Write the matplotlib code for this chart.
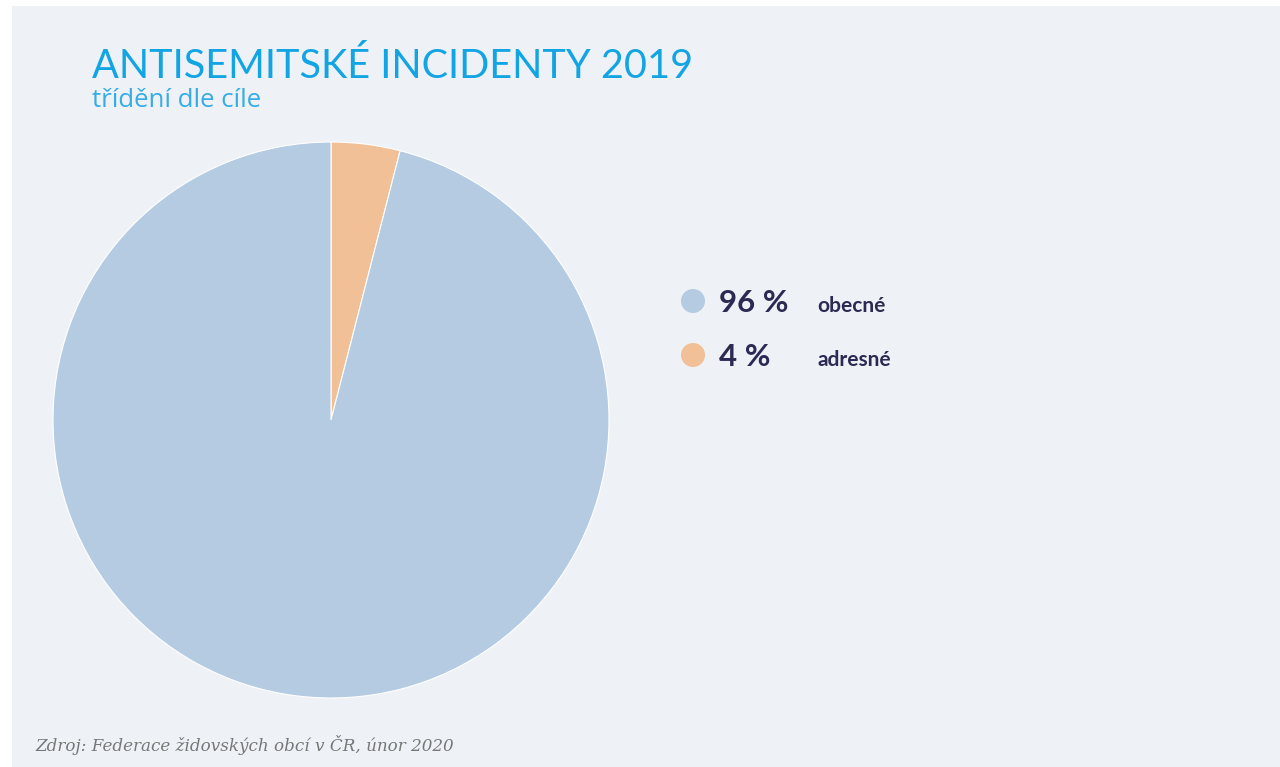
import matplotlib
matplotlib.use("Agg")
import matplotlib.pyplot as plt
from matplotlib.patches import Rectangle, Circle

# Data
labels = ["adresné", "obecné"]
values = [4, 96]
colors = ["#f2c096", "#b5cbe2"]

# Legend shows obecné first
legend_labels = ["obecné", "adresné"]
legend_values = [96, 4]
legend_colors = ["#b5cbe2", "#f2c096"]

W, H = 1280, 767
fig = plt.figure(figsize=(W / 100, H / 100), dpi=100)
fig.patch.set_facecolor("white")

# Background axes in pixel coordinates (y down)
bg = fig.add_axes([0, 0, 1, 1], zorder=0)
bg.set_xlim(0, W)
bg.set_ylim(H, 0)
bg.axis("off")
bg.add_patch(Rectangle((12, 6), W - 12, H - 6, facecolor="#eef2f6", edgecolor="none"))

# Pie axes: centre (331, 420), radius 278 px
cx, cy, r = 331, 420, 278
ax = fig.add_axes([(cx - r) / W, (H - cy - r) / H, 2 * r / W, 2 * r / H], zorder=1)
ax.pie(values, colors=colors, startangle=90, counterclock=False, radius=1,
       wedgeprops=dict(edgecolor="white", linewidth=0.8))
ax.set_xlim(-1, 1)
ax.set_ylim(-1, 1)
ax.set_aspect("equal")
ax.axis("off")

# Title and subtitle
bg.text(92, 78, "ANTISEMITSKÉ INCIDENTY 2019", fontsize=28.5,
        color="#12a4e3", family="Lato", weight="normal", va="baseline")
bg.text(92, 107, "třídění dle cíle", fontsize=18.5,
        color="#35ace6", family="Open Sans", weight="normal", va="baseline")

# Custom legend
navy = "#2b2a52"
for i, (lab, val, col) in enumerate(zip(legend_labels, legend_values, legend_colors)):
    y = 301 + i * 54
    bg.add_patch(Circle((693, y), 12, facecolor=col, edgecolor="none"))
    bg.text(719, y + 11, f"{val} %", fontsize=22.5, color=navy,
            family="Lato", weight="bold", va="baseline")
    bg.text(817, y + 11, lab, fontsize=15, color=navy,
            family="Lato", weight="bold", va="baseline")

# Source note
bg.text(35, 751, "Zdroj: Federace židovských obcí v ČR, únor 2020",
        fontsize=12.1, color="#777777", family="DejaVu Serif", style="italic",
        va="baseline")

fig.savefig("out.png", dpi=100, facecolor=fig.get_facecolor())
